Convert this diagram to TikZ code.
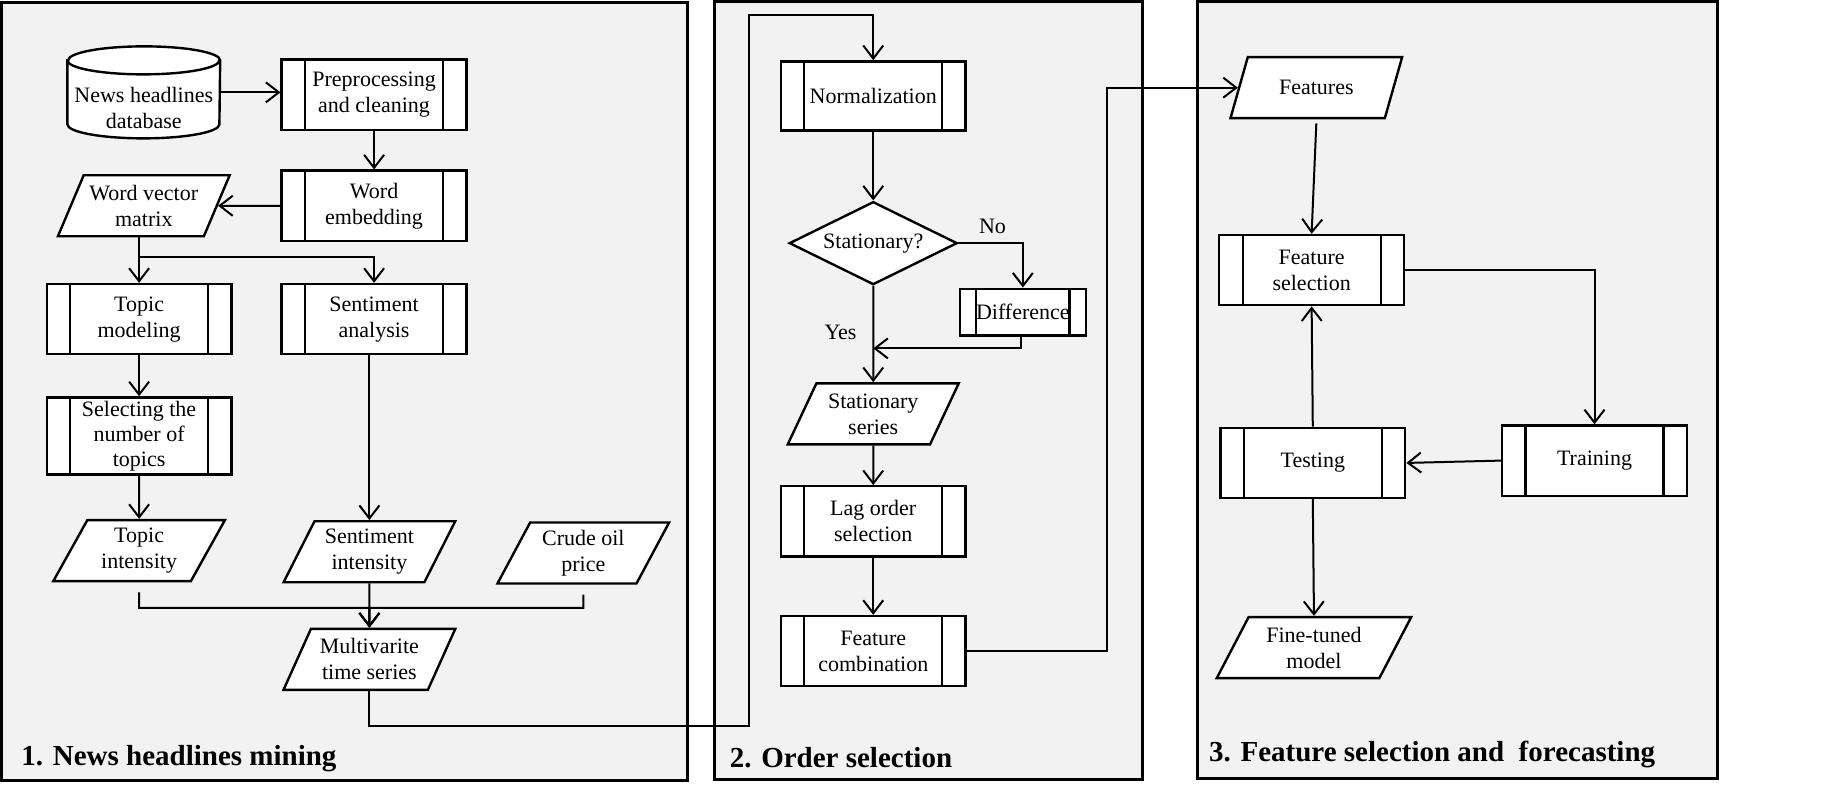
\documentclass[tikz,border=0pt]{standalone}
\usepackage{fontspec}
\setmainfont{Liberation Serif}
\newfontfamily\tnr{Liberation Serif}
\usetikzlibrary{shapes.geometric, arrows.meta}
\definecolor{panelgray}{RGB}{242,242,242}
\begin{document}
\begin{tikzpicture}[x=0.5845pt, y=-0.5845pt,
  every node/.style={font=\tnr\fontsize{11}{13}\selectfont, text=black},
  panel/.style={draw, fill=panelgray, line width=1.5pt},
  proc/.style={draw, fill=white, line width=1.2pt, minimum width=92.4pt, minimum height=35.1pt, align=center, inner sep=1pt,
    path picture={\draw[line width=1.1pt] ([xshift=#1]path picture bounding box.north west) -- ([xshift=#1]path picture bounding box.south west);
                  \draw[line width=1.1pt] ([xshift=-#1]path picture bounding box.north east) -- ([xshift=-#1]path picture bounding box.south east);}},
  proc/.default=11.7pt,
  data/.style={trapezium, trapezium left angle=62, trapezium right angle=118, trapezium stretches=true, draw, fill=white, line width=1.2pt, minimum width=86pt, minimum height=30.5pt, align=center, inner sep=1pt},
  dec/.style={diamond, aspect=2, draw, fill=white, line width=1.2pt, minimum width=84pt, minimum height=41.5pt, inner sep=0pt},
  arr/.style={-{Straight Barb[length=6.5pt,width=10pt,line width=1pt]}, line width=1pt},
  title/.style={anchor=west, inner sep=0pt, font=\tnr\bfseries\fontsize{14.5}{16}\selectfont}
]
\useasboundingbox (0,0) rectangle (1568,671);

% panels
\draw[panel] (1,2) rectangle (588,668);
\draw[panel] (611,1) rectangle (977,667);
\draw[panel] (1024,1) rectangle (1469,666);

% titles
\node[title] (t1) at (18,649) {1. News headlines mining};
\node[title] (t2) at (624,648) {2. Order selection};
\node[title] (t3) at (1034,645) {3. Feature selection and\ \ forecasting};

% ---- panel 1
\node[minimum width=76pt, minimum height=45.6pt, inner sep=0pt] (db) at (123,79) {};
\draw[fill=white, line width=1.2pt] ([yshift=-7pt]db.north west) -- ([yshift=7pt]db.south west)
  arc[start angle=180, end angle=360, x radius=38pt, y radius=7pt] -- ([yshift=-7pt]db.north east)
  arc[start angle=0, end angle=180, x radius=38pt, y radius=7pt] -- cycle;
\draw[line width=1.2pt] ([yshift=-7pt]db.north west) arc[start angle=180, end angle=360, x radius=38pt, y radius=7pt];
\node[align=center] (dbtext) at (123,92) {News headlines\\database};

\node[proc] (pre) at (320,81) {Preprocessing\\and cleaning};
\node[proc] (emb) at (320,176) {Word\\embedding};
\node[data] (wvm) at (123,176) {Word vector\\matrix};
\node[proc] (topic) at (119,273) {Topic\\modeling};
\node[proc] (senta) at (320,273) {Sentiment\\analysis};
\node[proc, minimum height=38.6pt, font=\tnr\fontsize{11}{12.5}\selectfont] (sel) at (119,373) {Selecting the\\number of\\topics};
\node[data] (ti) at (119,471) {Topic\\intensity};
\node[data] (si) at (316,472) {Sentiment\\intensity};
\node[data] (crude) at (499,473) {Crude oil\\price};
\node[data] (mts) at (316,564) {Multivarite\\time series};

% ---- panel 2
\node[proc, minimum height=34.5pt] (norm) at (747,82) {Normalization};
\node[dec] (stat) at (747,208) {Stationary?};
\node[proc=8.2pt, minimum width=63.1pt, minimum height=23.4pt] (diff) at (875,267) {Difference};
\node[data] (ss) at (747,354) {Stationary\\series};
\node[proc] (lag) at (747,446) {Lag order\\selection};
\node[proc] (fc) at (747,557) {Feature\\combination};
\node (no) at (849,194) {No};
\node (yes) at (719,284) {Yes};

% ---- panel 3
\node[data] (feat) at (1126,75) {Features};
\node[proc] (fsel) at (1122,231) {Feature\\selection};
\node[proc] (test) at (1123,396) {Testing};
\node[proc] (train) at (1364,394) {Training};
\node[data, minimum width=97.6pt] (ft) at (1124,554) {Fine-tuned\\model};

% ---- connectors panel 1
\draw[arr] (db.east) -- (db.east -| pre.west);
\draw[arr] (pre) -- (emb);
\draw[arr] (emb) -- (wvm);
\coordinate (b1) at (119,220);
\draw[arr] (wvm.south -| b1) -- (topic.north);
\draw[arr] (b1) -| (senta.north);
\draw[arr] (topic) -- (sel);
\draw[arr] (sel) -- (ti);
\draw[arr] (senta.south -| si.north) -- (si.north);
\coordinate (m1) at (316,520);
\draw[arr] ([yshift=-5pt]ti.south) |- (m1) -- (mts.north);
\draw[arr] ([yshift=-5pt]crude.south) |- (m1) -- (mts.north);
\draw[arr] (si.south) -- (mts.north);
\coordinate (c1) at (641,621);
\coordinate (c2) at (641,13);
\draw[arr] (mts.south) |- (c1) -- (c2) -| (norm.north);

% ---- connectors panel 2
\draw[arr] (norm) -- (stat);
\draw[arr] (stat.east) -| (diff.north);
\draw[arr] (stat.south) -- (ss.north);
\coordinate (c3) at (747,298);
\draw[arr] ([xshift=-1pt]diff.south) |- (c3);
\draw[arr] (ss) -- (lag);
\draw[arr] (lag) -- (fc);
\coordinate (c4) at (947,300);
\draw[arr] (fc.east) -| (c4) |- (feat.west);

% ---- connectors panel 3
\draw[arr] ([yshift=-2pt]feat.south) -- (fsel.north);
\draw[arr] (fsel.east) -| (train.north);
\draw[arr] (train.west) -- (test.east);
\draw[arr] (test.north) -- (fsel.south);
\draw[arr] (test.south) -- (ft.north);
\end{tikzpicture}
\end{document}
